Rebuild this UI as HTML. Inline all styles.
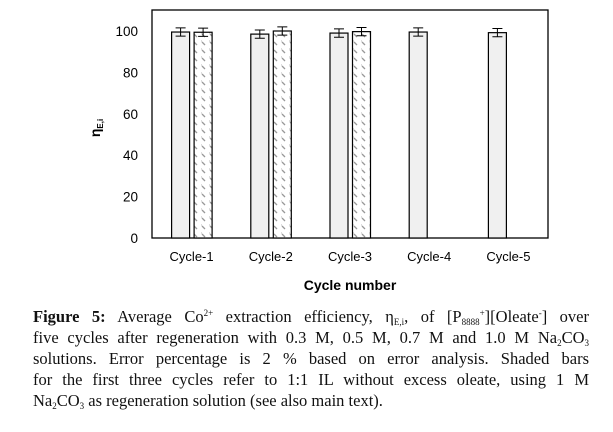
<!DOCTYPE html>
<html><head><meta charset="utf-8"><style>
body{margin:0;width:613px;height:432px;background:#fff;overflow:hidden;position:relative;font-family:"Liberation Sans",sans-serif}
#cap{position:absolute;left:33px;top:306px;width:556px;font-family:"Liberation Serif",serif;font-size:16.5px;line-height:21px;color:#111}
#cap div{text-align:justify;text-align-last:justify;white-space:nowrap;height:21px}
#cap div.last{text-align-last:left}
#cap sub{font-size:9px;vertical-align:-3px;line-height:0}
#cap sup{font-size:9px;vertical-align:6px;line-height:0}
</style></head><body>
<svg id="chart" width="613" height="300" style="position:absolute;left:0;top:0">
<defs><pattern id="hatch" width="8" height="8" patternUnits="userSpaceOnUse"><rect width="8" height="8" fill="#fff"/><path d="M2 2 L5 5" stroke="#999" stroke-width="1.3"/><path d="M1 1 h1" stroke="#bbb"/></pattern></defs>
<g id="g"></g>
<text x="100" y="128" transform="rotate(-90 100 128)" text-anchor="middle" font-size="14" font-weight="bold">η<tspan font-size="8" dy="3">E,i</tspan></text>
<text x="350" y="290" text-anchor="middle" font-size="14" font-weight="bold">Cycle number</text>
</svg>
<div id="cap">
<div><b>Figure 5:</b> Average Co<sup>2+</sup> extraction efficiency, η<sub>E,i</sub>, of [P<sub>8888</sub><sup>+</sup>][Oleate<sup>-</sup>] over</div>
<div>five cycles after regeneration with 0.3 M, 0.5 M, 0.7 M and 1.0 M Na<sub>2</sub>CO<sub>3</sub></div>
<div>solutions. Error percentage is 2 % based on error analysis. Shaded bars</div>
<div>for the first three cycles refer to 1:1 IL without excess oleate, using 1 M</div>
<div class="last">Na<sub>2</sub>CO<sub>3</sub> as regeneration solution (see also main text).</div>
</div>
<script>
const categories=["Cycle-1","Cycle-2","Cycle-3","Cycle-4","Cycle-5"];
const seriesA=[99.5,98.5,99,99.5,99.2];
const seriesB=[99.4,100,99.7,null,null];
const errA=[2,2,2,2,2];
const errB=[2,2,2,null,null];
const yTicks=[0,20,40,60,80,100];
const NS="http://www.w3.org/2000/svg";
const g=document.getElementById('g');
const L=152,R=548,T=10,B=238;
const y=v=>B-v*2.07;
const bw=(R-L)/categories.length;
const cx=i=>L+bw*(i+0.5);
function mk(t,a){const e=document.createElementNS(NS,t);for(const k in a)e.setAttribute(k,a[k]);g.appendChild(e);return e;}
let fr=mk('rect',{x:L,y:T,width:R-L,height:B-T,fill:'none',stroke:'#000','stroke-width':1.3});


yTicks.forEach(t=>{const e=mk('text',{x:138,y:y(t)+5,'text-anchor':'end','font-size':13.5});e.textContent=t;

});
function err(x,v,d,n){const e=mk('path',{d:`M${x-5} ${y(v+d)}h10M${x} ${y(v+d)}V${y(v-d)}M${x-5} ${y(v-d)}h10`,stroke:'#000','stroke-width':1,fill:'none'});

}
categories.forEach((c,i)=>{const x=cx(i);
const a=mk('rect',{x:x-20,y:y(seriesA[i]),width:18,height:B-y(seriesA[i]),fill:'#f0f0f0',stroke:'#000','stroke-width':1.2});


err(x-11,seriesA[i],errA[i],'error-bar-'+c.toLowerCase());
if(seriesB[i]!=null){const b=mk('rect',{x:x+2.5,y:y(seriesB[i]),width:18,height:B-y(seriesB[i]),fill:'url(#hatch)',stroke:'#000','stroke-width':1.2});


err(x+11.5,seriesB[i],errB[i],'shaded-error-bar-'+c.toLowerCase());}
const t=mk('text',{x:x,y:261,'text-anchor':'middle','font-size':13});t.textContent=c;

});
</script>
</body></html>
